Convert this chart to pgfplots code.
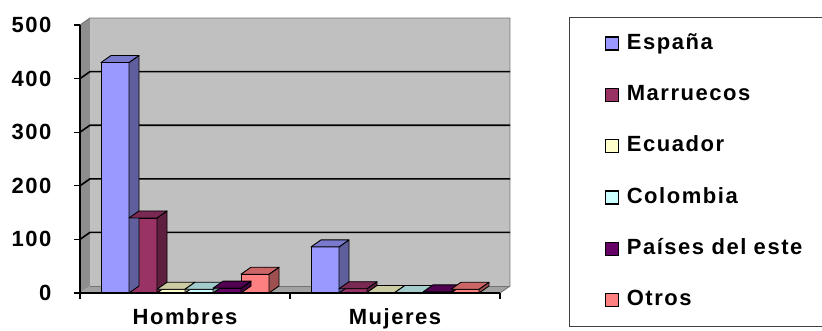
\documentclass[border=0pt]{standalone}
\usepackage{fontspec}
\setmainfont{Liberation Sans}[LetterSpace=7]
\usepackage{pgfplots}
\pgfplotsset{compat=1.18}

\definecolor{cEsp}{HTML}{9999FF}
\definecolor{cMar}{HTML}{993366}
\definecolor{cEcu}{HTML}{FFFFCC}
\definecolor{cCol}{HTML}{CCFFFF}
\definecolor{cPai}{HTML}{660066}
\definecolor{cOtr}{HTML}{FF8080}
\definecolor{backwall}{HTML}{C0C0C0}
\definecolor{sidewall}{HTML}{8E8E8E}
\definecolor{floorc}{HTML}{A2A2A2}

\newcommand{\lblfont}{\fontsize{22}{25}\selectfont\bfseries}

\pgfplotsset{
 front/.style n args={2}{ybar, bar width=28pt, bar shift=#2pt, fill=#1, draw=black, line width=0.9pt, forget plot},
 box3d/.style n args={2}{only marks, scatter, mark=*, mark size=0pt, forget plot,
   visualization depends on={rawy \as \rawy},
   scatter/@pre marker code/.code={%
     \pgfmathsetmacro\hh{\rawy*0.536}%
     \filldraw[fill=#1!62!black, draw=black, line width=0.9pt, line join=round]
       ({#2pt+14pt},0pt) -- ({#2pt+24pt},7pt) -- ({#2pt+24pt},{7pt-\hh pt}) -- ({#2pt+14pt},{-\hh pt}) -- cycle;
     \filldraw[fill=#1!80!black, draw=black, line width=0.9pt, line join=round]
       ({#2pt-14pt},0pt) -- ({#2pt+14pt},0pt) -- ({#2pt+24pt},7pt) -- ({#2pt-4pt},7pt) -- cycle;
     \scope[opacity=0]},
   scatter/@post marker code/.code={\endscope}},
 limg/.style={legend image code/.code={\path (-35pt,0pt) (21pt,0pt);
     \filldraw[fill=#1, draw=black, line width=1.3pt] (0pt,-6.5pt) rectangle (13pt,6.5pt);}},
}

\begin{document}
\begin{tikzpicture}
\useasboundingbox (-80pt,-37pt) rectangle (742pt,293pt);
\begin{axis}[
  at={(0pt,0pt)}, anchor=south west,
  x=210pt, y=0.536pt,
  xmin=0, xmax=2, ymin=0, ymax=500,
  clip=false,
  axis on top,
  axis x line*=bottom, axis y line*=left,
  axis line style={black, line width=1.5pt},
  ytick={0,100,...,500},
  xtick={0,1,2}, xticklabels={,,},
  extra x ticks={0.5,1.5}, extra x tick labels={Hombres,Mujeres},
  extra x tick style={major tick length=0pt},
  xticklabel style={yshift=-12.5pt},
  yticklabel style={xshift=-19pt},
  tick align=outside, major tick length=6pt,
  tick style={black, line width=1.2pt},
  tick label style={font=\lblfont},
  /pgf/number format/assume math mode=true,
  legend cell align=left,
  legend style={at={(1.16429,1.02985)}, anchor=north west, draw=black!75, line width=1.2pt,
    inner xsep=0pt, inner ysep=16.5pt, row sep=32.3pt, font=\lblfont,
    nodes={inner sep=0pt, text height=15pt, text depth=4pt, text width=196pt}},
]
% walls
\fill[backwall] ([shift={(10pt,7pt)}]axis cs:0,0) rectangle ([shift={(10pt,7pt)}]axis cs:2,500);
\fill[sidewall] (axis cs:0,0) -- (axis cs:0,500) -- ([shift={(10pt,7pt)}]axis cs:0,500) -- ([shift={(10pt,7pt)}]axis cs:0,0) -- cycle;
\fill[floorc] (axis cs:0,0) -- (axis cs:2,0) -- ([shift={(10pt,7pt)}]axis cs:2,0) -- ([shift={(10pt,7pt)}]axis cs:0,0) -- cycle;
\draw[black!55, line width=0.9pt] (axis cs:0,500) -- ([shift={(10pt,7pt)}]axis cs:0,500) -- ([shift={(10pt,7pt)}]axis cs:2,500) -- ([shift={(10pt,7pt)}]axis cs:2,0) -- (axis cs:2,0);
\draw[black!55, line width=0.9pt] ([shift={(10pt,7pt)}]axis cs:0,0) -- ([shift={(10pt,7pt)}]axis cs:2,0);
\pgfplotsinvokeforeach{100,200,300,400}{
  \draw[black, line width=1.6pt] (axis cs:0,#1) -- ([shift={(10pt,7pt)}]axis cs:0,#1) -- ([shift={(10pt,7pt)}]axis cs:2,#1);
}
% series
\addplot[front={cEsp}{-70}] coordinates {(0.5,430) (1.5,86)};
\addplot[box3d={cEsp}{-70}] coordinates {(0.5,430) (1.5,86)};
\addplot[front={cMar}{-42}] coordinates {(0.5,140) (1.5,8)};
\addplot[box3d={cMar}{-42}] coordinates {(0.5,140) (1.5,8)};
\addplot[front={cEcu}{-14}] coordinates {(0.5,7) (1.5,1)};
\addplot[box3d={cEcu}{-14}] coordinates {(0.5,7) (1.5,1)};
\addplot[front={cCol}{14}] coordinates {(0.5,7) (1.5,1)};
\addplot[box3d={cCol}{14}] coordinates {(0.5,7) (1.5,1)};
\addplot[front={cPai}{42}] coordinates {(0.5,9) (1.5,2)};
\addplot[box3d={cPai}{42}] coordinates {(0.5,9) (1.5,2)};
\addplot[front={cOtr}{70}] coordinates {(0.5,35) (1.5,7)};
\addplot[box3d={cOtr}{70}] coordinates {(0.5,35) (1.5,7)};
% legend
\addlegendimage{limg=cEsp}\addlegendentry{España}
\addlegendimage{limg=cMar}\addlegendentry{Marruecos}
\addlegendimage{limg=cEcu}\addlegendentry{Ecuador}
\addlegendimage{limg=cCol}\addlegendentry{Colombia}
\addlegendimage{limg=cPai}\addlegendentry{Países del este}
\addlegendimage{limg=cOtr}\addlegendentry{Otros}
\end{axis}
\end{tikzpicture}
\end{document}
